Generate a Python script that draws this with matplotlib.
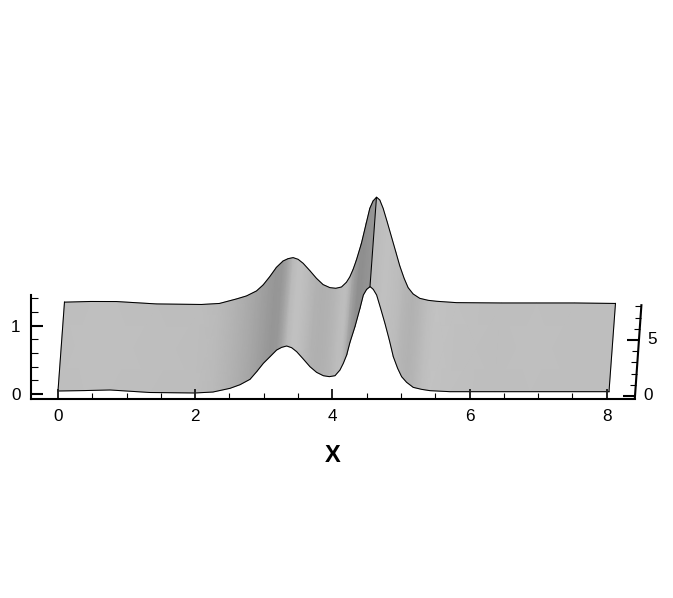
import matplotlib
matplotlib.use("Agg")
import matplotlib.pyplot as plt
import numpy as np
from matplotlib.ticker import MultipleLocator

plt.rcParams['font.family'] = ['Liberation Sans', 'DejaVu Sans']

x_values = [0, .379, .758, 1.341, 1.997, 2.259,
            2.507, 2.653, 2.799, 2.896, 2.993, 3.090, 3.187, 3.260, 3.333, 3.406, 3.479, 3.576, 3.673, 3.770,
            3.868, 3.955, 4.038, 4.110, 4.159, 4.208, 4.256, 4.329, 4.402, 4.451, 4.499, 4.548, 4.553, 4.596,
            4.645, 4.703, 4.766, 4.830, 4.888, 4.951, 5.009, 5.082, 5.179, 5.301, 5.422, 5.714,
            6.370, 6.880, 7.434, 8.032]
front_height = [.044, .050, .059, .022, .015, .029,
                .083, .136, .215, .327, .449, .546, .644, .683, .703, .678, .620, .512, .400, .317,
                .268, .254, .268, .351, .449, .571, .756, .986, 1.254, 1.449, 1.532, 1.571, 1.570, 1.532,
                1.449, 1.254, 1.034, .790, .546, .376, .254, .171, .097, .068, .049, .034,
                .034, .034, .034, .034]
back_height = [0, .010, .009, -.026, -.034, -.019,
               .047, .091, .164, .252, .374, .510, .603, .637, .652, .627, .569, .462, .349, .257,
               .213, .203, .222, .291, .369, .481, .618, .862, 1.169, 1.374, 1.482, 1.535, 1.534, 1.496,
               1.374, 1.179, .959, .735, .530, .349, .213, .120, .056, .027, .013, -.007,
               -.012, -.012, -.012, -.019]
shade = [190, 191, 191, 190, 189, 186,
         178, 172, 165, 160, 155, 150, 152, 165, 185, 192, 192, 186, 178, 176,
         178, 182, 188, 190, 182, 165, 155, 143, 143, 146, 148, 150, 188, 188,
         190, 192, 192, 190, 188, 183, 180, 178, 182, 190, 194, 192,
         190, 191, 190, 190]
x_major = 2
x_minor = 0.5
z_major = 1
z_minor = 0.2
depth_end = 8.2
depth_major = [0, 5]
depth_minor = [1, 2, 3, 4, 6, 7, 8]

W, H = 673, 598
DX, DZ = 68.6, 68.3
fig = plt.figure(figsize=(W / 100, H / 100), dpi=100, facecolor='white')
ax = fig.add_axes([31 / W, (H - 399) / H, (635 - 31) / W, (399 - 295) / H])
ax.set_xlim((31 - 58) / DX, (635 - 58) / DX)
ax.set_ylim((394 - 399) / DZ, (394 - 295) / DZ)
ax.patch.set_visible(False)

# oblique projection of the depth axis
kx, kz = 0.79 / DX, 11.2 / DZ


def project(x, z, d):
    return np.asarray(x) + kx * np.asarray(d), np.asarray(z) + kz * np.asarray(d)


xv = np.array(x_values)
xf, zf = project(xv, front_height, 0)
xb, zb = project(xv, back_height, depth_end)
X = np.vstack([xf, xb])
Z = np.vstack([zf, zb])
C = np.vstack([shade, shade])
ax.pcolormesh(X, Z, C, cmap='gray', vmin=0, vmax=255, shading='gouraud', clip_on=False, zorder=1)

line = dict(color='black', lw=0.75, clip_on=False, zorder=1.5)
ax.plot(xf, zf, **line)
ax.plot(xb, zb, **line)
ax.plot([xf[0], xb[0]], [zf[0], zb[0]], **line)
ax.plot([xf[-1], xb[-1]], [zf[-1], zb[-1]], **line)
ridge = x_values.index(4.548)
ax.plot([xf[ridge], xb[ridge]], [zf[ridge], zb[ridge]], **line)

ax.spines['top'].set_visible(False)
ax.spines['right'].set_visible(False)
for s in ('left', 'bottom'):
    ax.spines[s].set_linewidth(1.5)
ax.xaxis.set_major_locator(MultipleLocator(x_major))
ax.xaxis.set_minor_locator(MultipleLocator(x_minor))
ax.yaxis.set_major_locator(MultipleLocator(z_major))
ax.yaxis.set_minor_locator(MultipleLocator(z_minor))
ax.tick_params(axis='x', which='major', direction='in', length=7.2, width=1.4, pad=7.5, labelsize=12.3, color='#222222')
ax.tick_params(axis='x', which='minor', direction='in', length=4.3, width=0.8)
ax.tick_params(axis='y', which='major', direction='in', length=8.6, width=1.5, pad=7.5, labelsize=12.3)
ax.tick_params(axis='y', which='minor', direction='in', length=5, width=0.8)
ax.set_xlabel('X', fontsize=17, fontweight='bold')
ax.xaxis.set_label_coords(0.5, (399 - 455) / 104)
ax.xaxis.label.set_va('center')

# depth axis on the right
xbase = (635 - 58) / DX
zbase = (394 - 396) / DZ


def depth_pt(d):
    return xbase + kx * d, zbase + kz * d


x0, z0 = depth_pt(-0.27)
x1, z1 = depth_pt(depth_end)
ax.plot([x0, x1], [z0, z1], color='black', lw=1.5, clip_on=False, solid_capstyle='butt')
for d in depth_major:
    xt, zt = depth_pt(d)
    ax.plot([xt - 12 / DX, xt], [zt, zt], color='black', lw=1.5, clip_on=False, solid_capstyle='butt')
    ax.text(xt + 13 / DX, zt, str(d), fontsize=12.3, ha='center', va='center', clip_on=False)
for d in depth_minor:
    xt, zt = depth_pt(d)
    ax.plot([xt - 6 / DX, xt], [zt, zt], color='black', lw=0.8, clip_on=False, solid_capstyle='butt')

fig.savefig('out.png', dpi=100, facecolor='white')
